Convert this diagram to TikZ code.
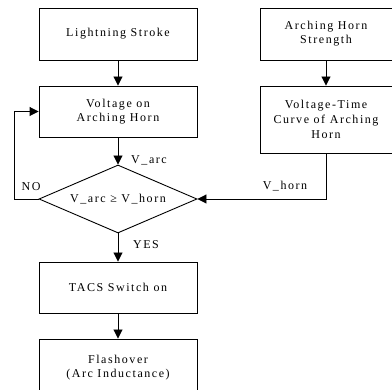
\documentclass[tikz,border=0pt]{standalone}
\usepackage{fontspec}
\setmainfont{Liberation Serif}[LetterSpace=13]
\usetikzlibrary{arrows.meta,shapes.geometric}
\begin{document}
\begin{tikzpicture}[x=1pt,y=-1pt,
  box/.style={draw,line width=0.9pt,minimum width=158pt,align=center,inner sep=0pt,font=\fontsize{12}{14}\selectfont},
  rbox/.style={box,minimum width=132pt},
  cond/.style={draw,line width=0.9pt,shape=diamond,aspect=2.32,minimum width=158pt,minimum height=68pt,inner sep=0pt,font=\fontsize{12}{14}\selectfont},
  lab/.style={font=\fontsize{12}{14}\selectfont,inner sep=0pt},
  flow/.style={line width=0.9pt,-{Triangle[length=9pt,width=9pt]}}]
\useasboundingbox (0,0) rectangle (392,390);
\clip (0,0) rectangle (392,390);
\node[box,minimum height=52pt] (ls) at (118,34) {Lightning Stroke};
\node[box,minimum height=51pt] (va) at (118,111.5) {Voltage on\\Arching Horn};
\node[cond] (dc) at (118,199) {V\_arc ≥ V\_horn};
\node[box,minimum height=51pt] (ts) at (118,287.5) {TACS Switch on};
\node[box,minimum height=58pt] (fo) at (118,368) {Flashover\\(Arc Inductance)};
\node[rbox,minimum height=52pt] (hs) at (326,34) {Arching Horn\\Strength};
\node[rbox,minimum height=67pt,font=\fontsize{12}{15}\selectfont] (vt) at (326,119.5) {Voltage-Time\\Curve of Arching\\Horn};
\coordinate (nl) at (14,199);
\coordinate (nu) at (14,111.5);
\coordinate (hc) at (326,199);
\draw[flow] (ls) -- (va);
\draw[flow] (va) -- (dc.north);
\draw[flow] (dc.south) -- (ts);
\draw[flow] (ts) -- (fo);
\draw[flow] (hs) -- (vt);
\draw[flow] (vt.south) -- (hc) -- (dc.east);
\draw[flow] (dc.west) -- (nl) -- (nu) -- (va.west);
\node[lab] (lvarc) at (149,160) {V\_arc};
\node[lab] (lyes) at (146,245) {YES};
\node[lab] (lno) at (31,187) {NO};
\node[lab] (lvh) at (285,186) {V\_horn};
\end{tikzpicture}
\end{document}
